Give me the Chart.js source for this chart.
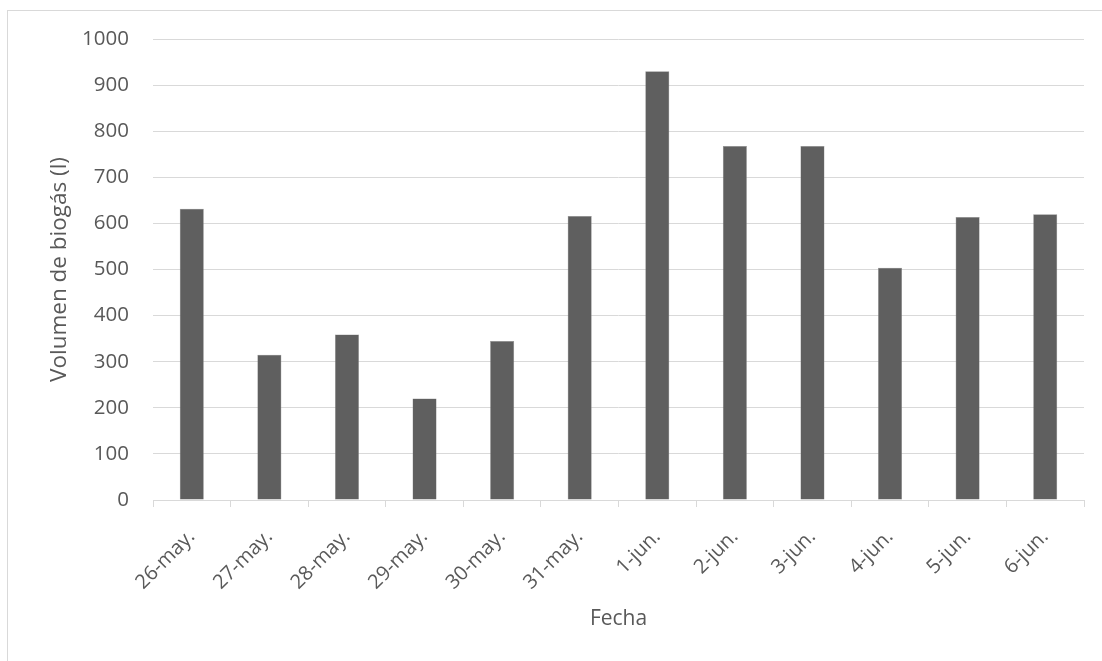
<!DOCTYPE html>
<html lang="es">
<head>
  <meta charset="UTF-8" />
  <title>Volumen de biogás</title>
  <script src="https://cdn.jsdelivr.net/npm/chart.js"></script>
  <style>
    html, body { margin: 0; padding: 0; background: #ffffff; }
    .frame { position: absolute; left: 7px; top: 10px; width: 1110px; height: 670px; border: 1px solid #d9d9d9; }
    .wrap { position: absolute; left: 0; top: 0; width: 1102px; height: 661px; }
  </style>
</head>
<body>
  <div class="frame"></div>
  <div class="wrap"><canvas id="biogas" width="1102" height="661"></canvas></div>
  <script>
    const fechas = ['26-may.', '27-may.', '28-may.', '29-may.', '30-may.', '31-may.',
      '1-jun.', '2-jun.', '3-jun.', '4-jun.', '5-jun.', '6-jun.'];
    const volumen = [632, 315, 359, 220, 345, 616, 930, 768, 768, 504, 614, 620];
    const yTicks = [0, 100, 200, 300, 400, 500, 600, 700, 800, 900, 1000];

    const gris = '#595959';
    const linea = '#d9d9d9';
    const familia = '"Open Sans", "Noto Sans", sans-serif';
    const fuenteTicks = { family: familia, size: 20.5 };

    // left edge of the plot area sits at x=153, bottom at y=500
    const padIzq = 46;
    const padAbajo = 29;

    new Chart(document.getElementById('biogas'), {
      type: 'bar',
      data: {
        labels: fechas,
        datasets: [{
          label: 'Volumen de biogás (l)',
          data: volumen,
          backgroundColor: '#5f5f5f',
          borderColor: '#8c8c8c',
          borderWidth: 0.5,
          categoryPercentage: 1,
          barPercentage: 0.31
        }]
      },
      options: {
        responsive: false,
        animation: false,
        devicePixelRatio: 1,
        layout: { padding: { left: padIzq, right: 18, top: 39, bottom: padAbajo } },
        plugins: { legend: { display: false }, tooltip: { enabled: false } },
        scales: {
          x: {
            offset: true,
            grid: { offset: true, drawOnChartArea: false, color: linea, tickLength: 7 },
            border: { color: linea, width: 1 },
            ticks: { color: gris, font: { family: familia, size: 20 }, autoSkip: false, maxRotation: 45, minRotation: 45, padding: 18 },
            title: { display: true, text: 'Fecha', color: gris, font: { family: familia, size: 21 }, padding: 0 },
            afterFit: s => { s.height = 661 - 500 - padAbajo; }
          },
          y: {
            min: 0,
            max: 1000,
            afterBuildTicks: s => { s.ticks = yTicks.map(v => ({ value: v })); },
            grid: { color: linea, lineWidth: 1, drawTicks: false },
            border: { display: false },
            ticks: { color: gris, font: fuenteTicks, padding: 24, callback: v => String(v) },
            title: { display: true, text: 'Volumen de biogás (l)', color: gris, font: { family: familia, size: 22.5 }, padding: 0 },
            afterFit: s => { s.width = 153 - padIzq; }
          }
        }
      }
    });
  </script>
</body>
</html>
